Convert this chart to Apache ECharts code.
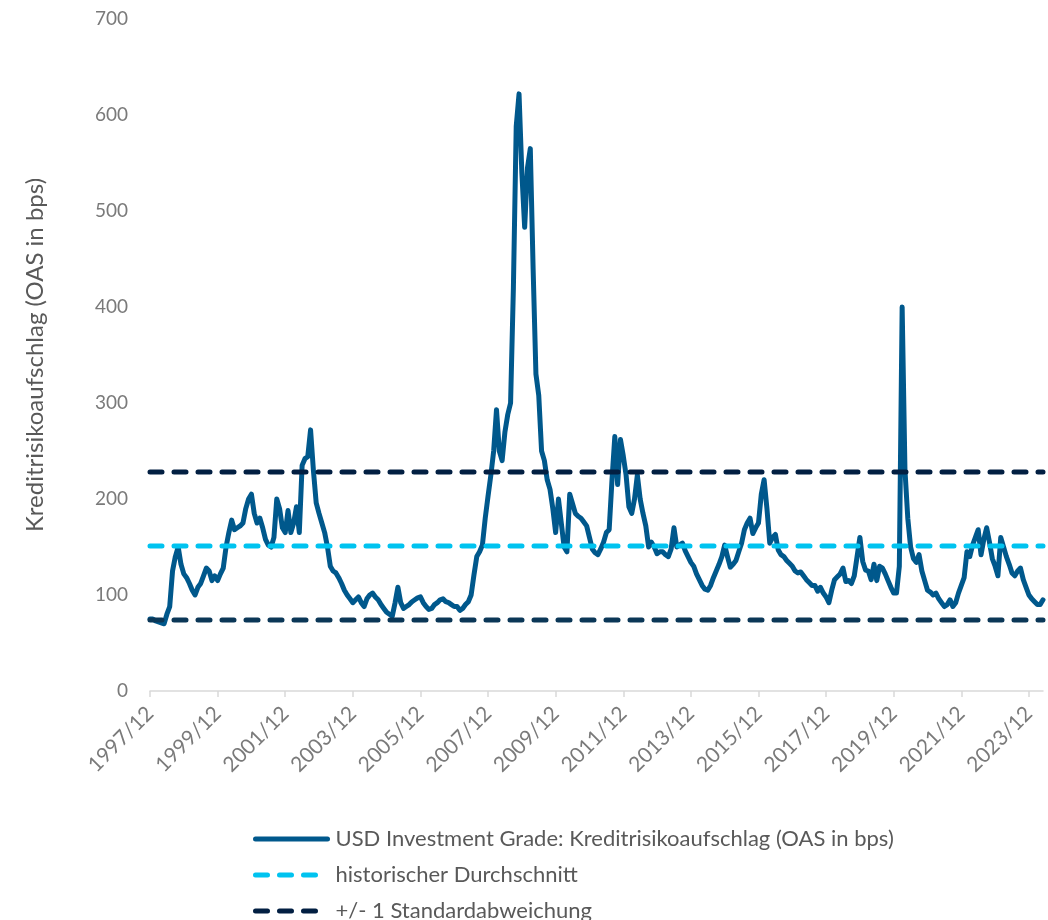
<!DOCTYPE html>
<html lang="de">
<head>
    <meta charset="UTF-8">
    <title>USD Investment Grade OAS</title>
    <style>
        html, body { margin: 0; padding: 0; background: #fff; }
        #main { width: 1048px; height: 920px; }
    </style>
</head>
<body>
<div id="main"></div>
<script src="https://cdn.jsdelivr.net/npm/echarts@6.0.0/dist/echarts.min.js"></script>
<script>
    // Monatswerte 1997/12 bis 2024/05
    var startYear = 1997, startMonth = 12, monthCount = 318;
    var categories = [];
    for (var i = 0; i < monthCount; i++) {
        var m = startMonth - 1 + i;
        var mm = (m % 12) + 1;
        categories.push((startYear + Math.floor(m / 12)) + '/' + (mm < 10 ? '0' + mm : mm));
    }

    // OAS in bps
    var oas = [
        75,                                                        // 1997/12
        75, 73, 72, 71, 70, 80, 88, 125, 140, 150, 132, 122,       // 1998
        118, 112, 105, 100, 108, 112, 120, 128, 125, 115, 120, 115, // 1999
        122, 128, 150, 165, 178, 168, 170, 172, 175, 190, 200, 205, // 2000
        185, 175, 180, 170, 158, 152, 150, 160, 200, 190, 170, 165, // 2001
        188, 165, 175, 192, 165, 235, 242, 244, 272, 230, 196, 185, // 2002
        175, 165, 150, 130, 125, 123, 118, 112, 105, 100, 96, 92,   // 2003
        95, 98, 92, 88, 96, 100, 102, 98, 95, 90, 86, 82,           // 2004
        80, 78, 92, 108, 92, 86, 88, 90, 93, 95, 97, 98,            // 2005
        92, 88, 85, 86, 90, 92, 95, 96, 93, 92, 90, 88,             // 2006
        88, 84, 86, 90, 93, 100, 121, 140, 145, 152, 180, 203,      // 2007
        225, 250, 293, 250, 240, 270, 288, 300, 420, 588, 622, 540, // 2008
        483, 545, 565, 440, 330, 308, 250, 240, 220, 210, 190, 165, // 2009
        200, 175, 150, 145, 205, 195, 185, 182, 180, 176, 172, 160, // 2010
        148, 144, 142, 148, 155, 165, 168, 220, 265, 215, 262, 245, // 2011
        225, 192, 185, 200, 225, 200, 185, 172, 150, 155, 150, 143, // 2012
        145, 145, 142, 140, 148, 170, 150, 152, 154, 146, 140, 134, // 2013
        130, 122, 116, 110, 106, 105, 110, 118, 125, 132, 140, 152, // 2014
        140, 129, 132, 136, 145, 154, 168, 175, 180, 164, 170, 175, // 2015
        205, 220, 190, 154, 160, 163, 147, 142, 140, 136, 133, 130, // 2016
        125, 123, 124, 120, 116, 113, 110, 110, 104, 108, 102, 98,  // 2017
        92, 105, 116, 119, 122, 128, 114, 115, 112, 120, 140, 160,  // 2018
        135, 126, 125, 116, 132, 115, 130, 128, 122, 115, 108, 102, // 2019
        102, 130, 400, 230, 180, 150, 138, 134, 142, 125, 115, 105, // 2020
        103, 100, 102, 96, 92, 88, 90, 95, 88, 92, 102, 110,        // 2021
        118, 145, 140, 152, 160, 168, 142, 158, 170, 155, 138, 130, // 2022
        120, 160, 150, 140, 132, 123, 120, 125, 128, 116, 108, 100, // 2023
        96, 93, 90, 90, 95                                          // 2024
    ];

    var avgValue = 151;   // historischer Durchschnitt
    var stdUpper = 228;   // + 1 Standardabweichung
    var stdLower = 74;    // - 1 Standardabweichung

    var yMin = 0, yMax = 700, yStep = 100;

    var avgLine = categories.map(function () { return avgValue; });
    var upperLine = categories.map(function () { return stdUpper; });
    var lowerLine = categories.map(function () { return stdLower; });

    var nameMain = 'USD Investment Grade: Kreditrisikoaufschlag (OAS in bps)';
    var nameAvg = 'historischer Durchschnitt';
    var nameStd = '+/- 1 Standardabweichung';

    var fontName = 'Lato';

    // eine Legende pro Zeile, damit nichts umbricht
    function legendRow(name, top) {
        return {
            orient: 'vertical',
            left: 253,
            top: top,
            padding: 0,
            itemWidth: 72,
            itemHeight: 18,
            itemStyle: { color: 'rgba(0,0,0,0)', borderWidth: 0, opacity: 0 },
            lineStyle: { width: 5 },
            textStyle: { fontFamily: fontName, fontSize: 22, color: '#595959', padding: [0, 0, 0, 3] },
            data: [name]
        };
    }

    var myChart = echarts.init(document.getElementById('main'));
    var option = {
        animation: false,
        textStyle: { fontFamily: fontName },
        grid: { left: 150, right: 5, top: 19, bottom: 229 },
        legend: [
            legendRow(nameMain, 828),
            legendRow(nameAvg, 864),
            legendRow(nameStd, 900)
        ],
        xAxis: {
            type: 'category',
            boundaryGap: false,
            data: categories,
            axisLine: { lineStyle: { color: '#d9d9d9', width: 1.5 } },
            axisTick: { interval: 23, length: 6, lineStyle: { color: '#d9d9d9', width: 1.5 } },
            axisLabel: {
                interval: 23,
                rotate: 45,
                margin: 19,
                fontSize: 21,
                color: '#7a7a7a',
                fontFamily: fontName,
                hideOverlap: false
            },
            splitLine: { show: false }
        },
        yAxis: {
            type: 'value',
            min: yMin,
            max: yMax,
            interval: yStep,
            name: 'Kreditrisikoaufschlag (OAS in bps)',
            nameLocation: 'middle',
            nameGap: 103,
            nameTextStyle: { fontFamily: fontName, fontSize: 24, color: '#595959' },
            axisLine: { show: false },
            axisTick: { show: false },
            axisLabel: { margin: 22, fontSize: 19, color: '#7a7a7a', fontFamily: fontName },
            splitLine: { show: false }
        },
        series: [
            {
                name: nameMain,
                type: 'line',
                data: oas,
                symbol: 'none',
                itemStyle: { color: '#00588c' },
                lineStyle: { color: '#00588c', width: 5, join: 'round', cap: 'round' },
                z: 2
            },
            {
                name: nameAvg,
                type: 'line',
                data: avgLine,
                symbol: 'none',
                itemStyle: { color: '#00c3f0' },
                lineStyle: { color: '#00c3f0', width: 5, type: [12, 12], cap: 'round' },
                z: 3
            },
            {
                name: nameStd,
                type: 'line',
                data: upperLine,
                symbol: 'none',
                itemStyle: { color: '#0b3757' },
                lineStyle: { color: '#021f42', width: 5, type: [12, 12], cap: 'round' },
                z: 3
            },
            {
                name: nameStd,
                type: 'line',
                data: lowerLine,
                symbol: 'none',
                itemStyle: { color: '#0b3757' },
                lineStyle: { color: '#0b3757', width: 5, type: [12, 12], cap: 'round' },
                z: 3
            }
        ]
    };
    myChart.setOption(option);
</script>
</body>
</html>
